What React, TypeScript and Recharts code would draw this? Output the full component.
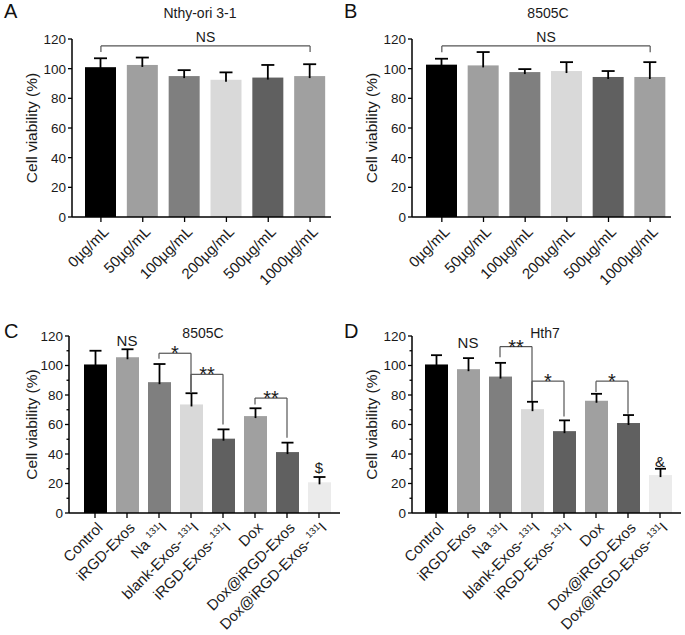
import { BarChart, Bar, XAxis, YAxis, Cell, ReferenceLine } from "recharts";

const FONT = '"Liberation Sans", Arial, sans-serif';

// ---------------------------------------------------------------------------
// Data
// ---------------------------------------------------------------------------

// Panels A & B: exosome dose series
const DOSE_LABELS = ["0µg/mL", "50µg/mL", "100µg/mL", "200µg/mL", "500µg/mL", "1000µg/mL"];
const NTHY_MEAN = [101, 102.5, 95, 92.5, 94, 95];
const NTHY_SD = [6, 5, 4, 5, 8.5, 8];
const DOSE_8505C_MEAN = [102.7, 102.2, 97.7, 98.4, 94.4, 94.4];
const DOSE_8505C_SD = [4, 9, 2, 6, 4, 10];

// Panels C & D: treatment groups
const GROUP_LABELS = [
  "Control",
  "iRGD-Exos",
  "Na ¹³¹I",
  "blank-Exos-¹³¹I",
  "iRGD-Exos-¹³¹I",
  "Dox",
  "Dox@iRGD-Exos",
  "Dox@iRGD-Exos-¹³¹I",
];
const GROUP_8505C_MEAN = [100.7, 105.6, 88.7, 73.6, 50.4, 65.7, 41.3, 20.8];
const GROUP_8505C_SD = [9.3, 5.4, 12.3, 7.6, 6.3, 5.3, 6.4, 3.6];
const HTH7_MEAN = [100.7, 97.5, 92.5, 70.4, 55.5, 76.1, 61, 25.7];
const HTH7_SD = [6.3, 7.5, 9.3, 5, 7.3, 4.7, 5.4, 4.3];

// single-bar marks: [bar index, text, baseline height in %]
type Mark = { at: number; text: string; y: number };
const GROUP_8505C_MARKS: Mark[] = [
  { at: 1, text: "NS", y: 113 },
  { at: 7, text: "$", y: 27 },
];
const HTH7_MARKS: Mark[] = [
  { at: 1, text: "NS", y: 112 },
  { at: 7, text: "&", y: 31.5 },
];

const Y_TICKS_MAJOR = [0, 20, 40, 60, 80, 100, 120];
const Y_TICKS_MINOR = [0, 10, 20, 30, 40, 50, 60, 70, 80, 90, 100, 110, 120];

// significance brackets: bar indices, bracket height, leg ends (all in %)
type Bracket = { from: number; to: number; y: number; left: number; right: number; text: string };
const NTHY_BRACKETS: Bracket[] = [{ from: 0, to: 5, y: 115.3, left: 111.2, right: 111.2, text: "NS" }];
const DOSE_8505C_BRACKETS: Bracket[] = [{ from: 0, to: 5, y: 115.3, left: 111, right: 111, text: "NS" }];
const GROUP_8505C_BRACKETS: Bracket[] = [
  { from: 2, to: 3, y: 108.3, left: 104.5, right: 82, text: "*" },
  { from: 3, to: 4, y: 94, left: 82, right: 60, text: "**" },
  { from: 5, to: 6, y: 77.9, left: 73.6, right: 51, text: "**" },
];
const HTH7_BRACKETS: Bracket[] = [
  { from: 2, to: 3, y: 112.8, left: 105.6, right: 76, text: "**" },
  { from: 3, to: 4, y: 89.4, left: 76, right: 65.5, text: "*" },
  { from: 5, to: 6, y: 89.4, left: 82, right: 67.3, text: "*" },
];

// greys, per bar
const DOSE_COLORS = ["#000000", "#9f9f9f", "#7f7f7f", "#d9d9d9", "#606060", "#a0a0a0"];
const GROUP_COLORS = ["#000000", "#a0a0a0", "#7f7f7f", "#d9d9d9", "#606060", "#a0a0a0", "#606060", "#ebebeb"];

// ---------------------------------------------------------------------------
// Pieces
// ---------------------------------------------------------------------------

const TICK_SIZE = 4;
const TICK_MARGIN = 2;
const INK = "#1a1a1a";
const SUPERSCRIPTS: Record<string, string> = { "¹": "1", "³": "3" };

function YTick({ x, y, payload }: any) {
  const v = payload.value as number;
  const axisX = x + TICK_SIZE + TICK_MARGIN;
  const major = v % 20 === 0;
  return (
    <g>
      <line x1={axisX - (major ? TICK_SIZE : 2.5)} x2={axisX} y1={y} y2={y} stroke="#000" strokeWidth={1.3} />
      {major && (
        <text x={x} y={y} dy="0.36em" textAnchor="end" fontSize={13.5} fill={INK} fontFamily={FONT}>
          {v}
        </text>
      )}
    </g>
  );
}

// splits "Na ¹³¹I" into plain text + raised small digits + trailing text
function renderLabel(label: string) {
  const m = label.match(/^(.*?)([¹³]+)(.*)$/);
  if (!m) return label;
  const sup = m[2]
    .split("")
    .map((ch) => SUPERSCRIPTS[ch])
    .join("");
  return (
    <>
      {m[1]}
      <tspan fontSize={9.5} dx={m[1].endsWith(" ") ? 0 : 2} dy={-6}>
        {sup}
      </tspan>
      <tspan dy={6}>{m[3]}</tspan>
    </>
  );
}

function XTick({ x, y, payload }: any) {
  return (
    <g transform={`translate(${x + 5},${y + 5})`}>
      <text textAnchor="end" dy="0.35em" transform="rotate(-45)" fontSize={15} fill={INK} fontFamily={FONT}>
        {renderLabel(payload.value)}
      </text>
    </g>
  );
}

function makeBarShape(capWidth: number) {
  return function BarWithError(props: any) {
    const { x, y, width, height, fill, payload } = props;
    const perUnit = payload.value > 0 ? height / payload.value : 0;
    const top = y - payload.sd * perUnit;
    const cx = x + width / 2;
    return (
      <g>
        <rect x={x} y={y} width={width} height={height} fill={fill} />
        <line x1={cx} x2={cx} y1={y + 2} y2={top} stroke="#000" strokeWidth={1.8} />
        <line x1={cx - capWidth / 2} x2={cx + capWidth / 2} y1={top} y2={top} stroke="#000" strokeWidth={1.8} />
      </g>
    );
  };
}

interface PanelProps {
  left: number;
  top: number;
  width: number;
  height: number;
  marginTop: number;
  marginRight: number;
  yAxisWidth: number;
  xAxisHeight: number;
  padLeft: number;
  padRight: number;
  barSize: number;
  capWidth: number;
  minor: boolean;
  categories: string[];
  means: number[];
  sds: number[];
  marks?: Mark[];
  colors: string[];
  brackets: Bracket[];
  letter: string;
  title: string;
  titleX: number;
}

function Panel(p: PanelProps) {
  const data = p.categories.map((name, i) => ({ name, value: p.means[i], sd: p.sds[i] }));
  const shape = makeBarShape(p.capWidth);
  const lineProps = { stroke: "#555", strokeWidth: 1.2, ifOverflow: "visible" as const };
  return (
    <div style={{ position: "absolute", left: p.left, top: p.top, width: p.width, height: p.height }}>
      <div style={{ position: "absolute", left: 4, top: 0, fontSize: 20, fontFamily: FONT, color: "#111" }}>
        {p.letter}
      </div>
      <div
        style={{
          position: "absolute",
          left: p.titleX - 60,
          width: 120,
          top: 5,
          textAlign: "center",
          fontSize: 14,
          fontFamily: FONT,
          color: INK,
        }}
      >
        {p.title}
      </div>
      <BarChart
        width={p.width}
        height={p.height}
        data={data}
        margin={{ top: p.marginTop, right: p.marginRight, left: 0, bottom: 0 }}
        barSize={p.barSize}
      >
        <XAxis
          dataKey="name"
          interval={0}
          height={p.xAxisHeight}
          padding={{ left: p.padLeft, right: p.padRight }}
          axisLine={{ stroke: "#000", strokeWidth: 1.5 }}
          tickLine={{ stroke: "#000", strokeWidth: 1.3 }}
          tickSize={5}
          tickMargin={2}
          tick={<XTick />}
        />
        <YAxis
          width={p.yAxisWidth}
          domain={[0, 120]}
          ticks={p.minor ? Y_TICKS_MINOR : Y_TICKS_MAJOR}
          interval={0}
          axisLine={{ stroke: "#000", strokeWidth: 1.5 }}
          tickLine={false}
          tickSize={TICK_SIZE}
          tickMargin={TICK_MARGIN}
          tick={<YTick />}
          label={(lp: any) => {
            const vb = lp.viewBox;
            const cx = vb.x + 31;
            const cy = vb.y + vb.height / 2;
            return (
              <text
                x={cx}
                y={cy}
                transform={`rotate(-90, ${cx}, ${cy})`}
                textAnchor="middle"
                dominantBaseline="central"
                fontSize={15.5}
                fill={INK}
                fontFamily={FONT}
              >
                Cell viability (%)
              </text>
            );
          }}
        />
        <Bar dataKey="value" shape={shape} isAnimationActive={false}>
          {data.map((_, i) => (
            <Cell key={i} fill={p.colors[i]} />
          ))}
        </Bar>
        {p.brackets.map((b, i) => {
          const a = p.categories[b.from];
          const c = p.categories[b.to];
          const star = b.text.includes("*");
          return [
            <ReferenceLine
              key={`h${i}`}
              segment={[
                { x: a, y: b.y },
                { x: c, y: b.y },
              ]}
              {...lineProps}
              label={{
                value: b.text,
                position: "top",
                offset: star ? -7 : 4,
                fontSize: star ? 20 : 14,
                fill: INK,
                fontFamily: FONT,
              }}
            />,
            <ReferenceLine
              key={`l${i}`}
              segment={[
                { x: a, y: b.y },
                { x: a, y: b.left },
              ]}
              {...lineProps}
            />,
            <ReferenceLine
              key={`r${i}`}
              segment={[
                { x: c, y: b.y },
                { x: c, y: b.right },
              ]}
              {...lineProps}
            />,
          ];
        })}
        {(p.marks ?? []).map((m, i) => (
          <ReferenceLine
            key={`m${i}`}
            segment={[
              { x: p.categories[m.at], y: m.y },
              { x: p.categories[m.at], y: m.y },
            ]}
            stroke="none"
            ifOverflow="visible"
            label={{ value: m.text, position: "top", offset: 0, fontSize: 15, fill: INK, fontFamily: FONT }}
          />
        ))}
      </BarChart>
    </div>
  );
}

export default function App() {
  return (
    <div
      style={{
        position: "absolute",
        left: 0,
        top: 0,
        width: 685,
        height: 635,
        background: "#fff",
        overflow: "hidden",
      }}
    >
      <Panel
        left={0}
        top={0}
        width={340}
        height={320}
        marginTop={39}
        marginRight={9}
        yAxisWidth={72}
        xAxisHeight={103}
        padLeft={8}
        padRight={0}
        barSize={31}
        capWidth={13}
        minor={false}
        categories={DOSE_LABELS}
        means={NTHY_MEAN}
        sds={NTHY_SD}
        colors={DOSE_COLORS}
        brackets={NTHY_BRACKETS}
        letter="A"
        title="Nthy-ori 3-1"
        titleX={200}
      />
      <Panel
        left={340}
        top={0}
        width={345}
        height={320}
        marginTop={39}
        marginRight={14}
        yAxisWidth={72}
        xAxisHeight={103}
        padLeft={9}
        padRight={0}
        barSize={31}
        capWidth={13}
        minor={false}
        categories={DOSE_LABELS}
        means={DOSE_8505C_MEAN}
        sds={DOSE_8505C_SD}
        colors={DOSE_COLORS}
        brackets={DOSE_8505C_BRACKETS}
        letter="B"
        title="8505C"
        titleX={208}
      />
      <Panel
        left={0}
        top={320}
        width={341}
        height={315}
        marginTop={16}
        marginRight={1}
        yAxisWidth={69}
        xAxisHeight={122}
        padLeft={10}
        padRight={5}
        barSize={23}
        capWidth={12}
        minor={true}
        categories={GROUP_LABELS}
        means={GROUP_8505C_MEAN}
        sds={GROUP_8505C_SD}
        marks={GROUP_8505C_MARKS}
        colors={GROUP_COLORS}
        brackets={GROUP_8505C_BRACKETS}
        letter="C"
        title="8505C"
        titleX={203}
      />
      <Panel
        left={340}
        top={320}
        width={345}
        height={315}
        marginTop={16}
        marginRight={4}
        yAxisWidth={72}
        xAxisHeight={122}
        padLeft={8}
        padRight={5}
        barSize={23}
        capWidth={11}
        minor={true}
        categories={GROUP_LABELS}
        means={HTH7_MEAN}
        sds={HTH7_SD}
        marks={HTH7_MARKS}
        colors={GROUP_COLORS}
        brackets={HTH7_BRACKETS}
        letter="D"
        title="Hth7"
        titleX={205}
      />
    </div>
  );
}
